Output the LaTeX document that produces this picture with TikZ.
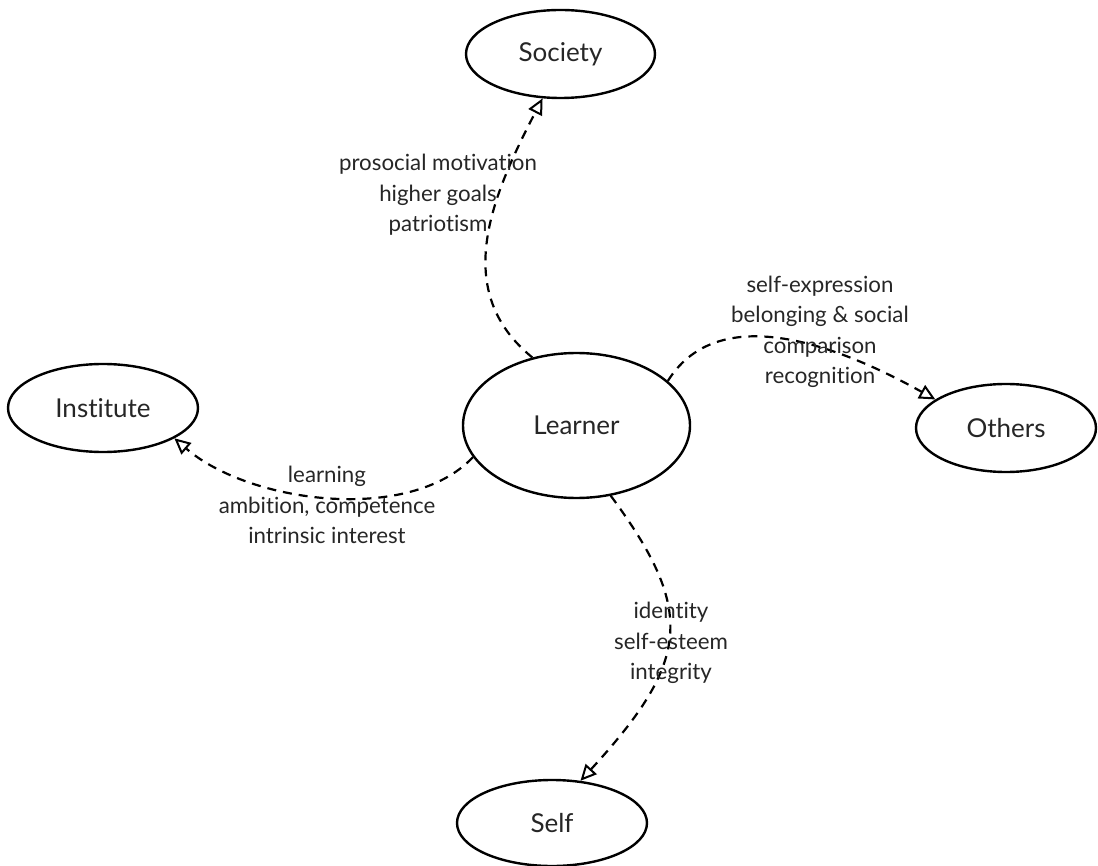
\documentclass[tikz,border=0pt]{standalone}
\usepackage{fontspec}
\setmainfont{Lato}[Ligatures={NoCommon,NoRare}]
\usetikzlibrary{shapes.geometric,arrows.meta}
\begin{document}
\begin{tikzpicture}[x=1pt,y=-1pt,
  ent/.style={ellipse,draw,line width=2.4pt,inner sep=0pt,text=black!85,
    font=\fontsize{26}{30}\selectfont},
  lbl/.style={align=center,inner sep=0pt,text=black!85,
    font=\fontsize{22.3}{30.5}\selectfont},
  conn/.style={dash pattern=on 9pt off 7pt,line width=2.2pt,
    -{Triangle[open,length=16pt,width=15pt,line width=2pt]}}]
\useasboundingbox (0,0) rectangle (1098,866);
\node[ent,minimum width=189pt,minimum height=88pt] (S) at (560.5,54) {Society};
\node[ent,minimum width=190pt,minimum height=88pt] (I) at (103,408) {Institute};
\node[ent,minimum width=227pt,minimum height=145pt] (L) at (576.5,425.5) {Learner};
\node[ent,minimum width=180pt,minimum height=88pt] (O) at (1006,428) {Others};
\node[ent,minimum width=190pt,minimum height=86pt] (F) at (552,823) {Self};

\draw[conn] (L.123) .. controls +(-81,-66) and +(-52,100) .. (S.-112);
\draw[conn] (L.26) .. controls +(47,-75) and +(-113,-63) .. (O.158);
\draw[conn] (L.197) .. controls +(-63,67) and +(75,65) .. (I.-23);
\draw[conn] (L.-64) .. controls +(85,115) and +(110,-120) .. (F.56);

\node[lbl] (ls) at (438,195) {prosocial motivation\\higher goals\\patriotism};
\node[lbl] (lo) at (820,332) {self-expression\\belonging \& social\\comparison\\recognition};
\node[lbl] (li) at (327,505) {learning\\ambition, competence\\intrinsic interest};
\node[lbl] (lf) at (671,643) {identity\\self-esteem\\integrity};
\end{tikzpicture}
\end{document}
